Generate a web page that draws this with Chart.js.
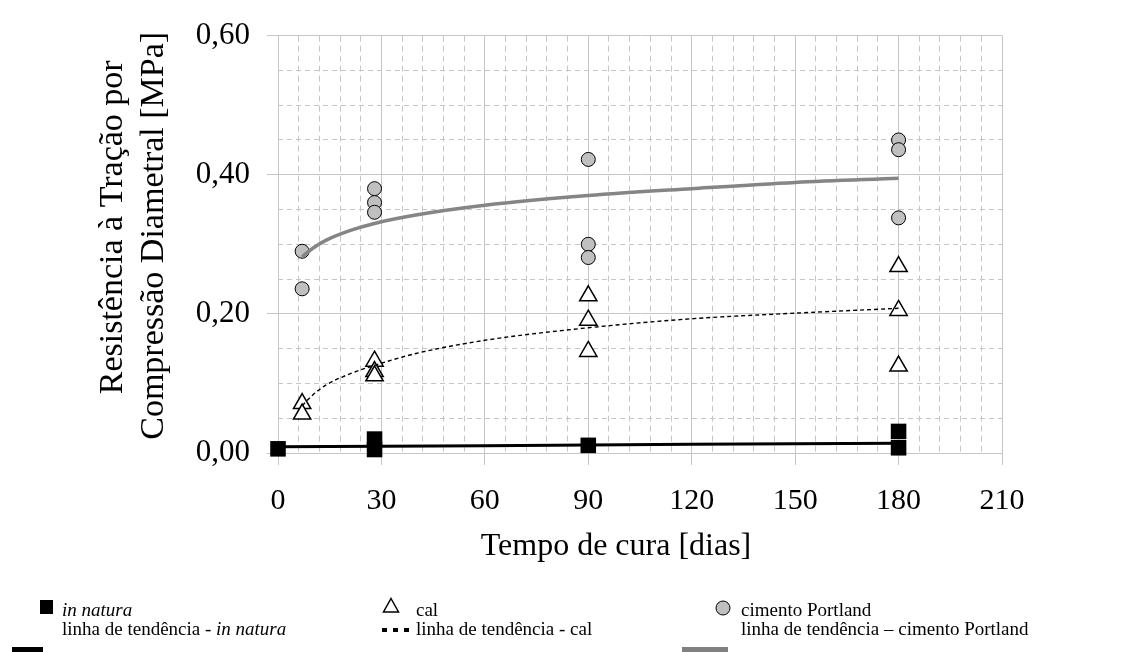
<!DOCTYPE html>
<html>
<head>
<meta charset="utf-8">
<script src="https://cdn.jsdelivr.net/npm/chart.js@4.4.1/dist/chart.umd.min.js"></script>
<style>
  body { margin: 0; background: #fff; }
  #wrap { position: relative; width: 1124px; height: 652px; overflow: hidden; }
  .lg { position: absolute; font-family: "Liberation Serif", serif; font-size: 19px; line-height: 20px; color: #000; white-space: nowrap; }
  .lg i { font-style: italic; }
  .sym { position: absolute; }
</style>
</head>
<body>
<div id="wrap">
  <canvas id="grafico" width="1124" height="652"></canvas>

  <!-- legenda feita à mão, igual à figura original -->
  <div class="sym" style="left:40px;top:600px;width:13px;height:14px;background:#000"></div>
  <div class="lg" style="left:62px;top:600px"><i>in natura</i></div>
  <div class="sym" style="left:12px;top:647px;width:31px;height:6px;background:#000"></div>
  <div class="lg" style="left:62px;top:619px">linha de tendência - <i>in natura</i></div>

  <svg class="sym" style="left:382px;top:597px" width="18" height="17"><polygon points="9,1.5 16.5,15 1.5,15" fill="#fff" stroke="#000" stroke-width="1.5"/></svg>
  <div class="lg" style="left:416px;top:600px">cal</div>
  <svg class="sym" style="left:381px;top:626px" width="32" height="8">
    <rect x="1" y="2" width="5" height="4" fill="#000"/><rect x="12" y="2" width="5" height="4" fill="#000"/><rect x="23" y="2" width="5" height="4" fill="#000"/>
  </svg>
  <div class="lg" style="left:416px;top:619px">linha de tendência - cal</div>

  <svg class="sym" style="left:714px;top:599px" width="18" height="18"><circle cx="9" cy="9" r="7" fill="#c0c0c0" stroke="#000" stroke-width="1"/></svg>
  <div class="lg" style="left:741px;top:600px">cimento Portland</div>
  <div class="sym" style="left:682px;top:647px;width:46px;height:6px;background:#808080"></div>
  <div class="lg" style="left:741px;top:619px">linha de tendência – cimento Portland</div>
</div>

<script>
// ---- dados ----
const xTickLabels = ['0', '30', '60', '90', '120', '150', '180', '210'];
const yTickLabels = ['0,00', '0,20', '0,40', '0,60'];
const xTitle = 'Tempo de cura [dias]';
const yTitle = ['Resistência à Tração por', 'Compressão Diametral [MPa]'];

// in natura (quadrados pretos)
const naturaDias = [0, 28, 28, 90, 180, 180];
const naturaRes = [0.006, 0.020, 0.005, 0.011, 0.031, 0.0075];
// cal (triângulos)
const calDias = [7, 7, 28, 28, 28, 90, 90, 90, 180, 180, 180];
const calRes = [0.071, 0.056, 0.132, 0.117, 0.111, 0.226, 0.191, 0.146, 0.268, 0.205, 0.125];
// cimento Portland (círculos cinza)
const cimDias = [7, 7, 28, 28, 28, 90, 90, 90, 180, 180, 180];
const cimRes = [0.290, 0.236, 0.380, 0.360, 0.346, 0.422, 0.300, 0.281, 0.450, 0.436, 0.338];

// linhas de tendência (pontos lidos sobre as curvas)
const tendNaturaDias = [0, 60, 120, 180];
const tendNaturaRes = [0.009, 0.0105, 0.0125, 0.014];
const tendCalDias = [7, 10, 14, 21, 28, 40, 60, 90, 120, 150, 180];
const tendCalRes = [0.068, 0.083, 0.098, 0.114, 0.126, 0.143, 0.162, 0.180, 0.193, 0.201, 0.208];
const tendCimDias = [7, 10, 14, 21, 28, 40, 60, 90, 120, 150, 180];
const tendCimRes = [0.282, 0.294, 0.306, 0.320, 0.330, 0.342, 0.356, 0.370, 0.380, 0.389, 0.395];

const pares = (xs, ys) => xs.map((x, i) => ({ x: x, y: ys[i] }));

const corGrade = '#c6c6c6';
const fonte = '"Liberation Serif", "Times New Roman", serif';

const ctx = document.getElementById('grafico').getContext('2d');
new Chart(ctx, {
  type: 'scatter',
  data: {
    datasets: [
      // linhas de tendência primeiro, para ficarem por cima dos marcadores
      {
        label: 'linha de tendência - in natura',
        data: pares(tendNaturaDias, tendNaturaRes),
        showLine: true, pointRadius: 0,
        borderColor: '#000', borderWidth: 3,
        xAxisID: 'x', yAxisID: 'y'
      },
      {
        label: 'linha de tendência - cal',
        data: pares(tendCalDias, tendCalRes),
        showLine: true, pointRadius: 0, cubicInterpolationMode: 'monotone',
        borderColor: '#000', borderWidth: 1.4, borderDash: [4, 3],
        xAxisID: 'x', yAxisID: 'y'
      },
      {
        label: 'linha de tendência – cimento Portland',
        data: pares(tendCimDias, tendCimRes),
        showLine: true, pointRadius: 0, cubicInterpolationMode: 'monotone',
        borderColor: '#858585', borderWidth: 3.5,
        xAxisID: 'x', yAxisID: 'y'
      },
      {
        label: 'in natura',
        data: pares(naturaDias, naturaRes),
        pointStyle: 'rect', pointRadius: 11,
        backgroundColor: '#000', borderColor: '#000', borderWidth: 0,
        clip: false,
        xAxisID: 'x', yAxisID: 'y'
      },
      {
        label: 'cal',
        data: pares(calDias, calRes),
        pointStyle: 'triangle', pointRadius: 10,
        backgroundColor: '#fff', borderColor: '#000', borderWidth: 1.5,
        clip: false,
        xAxisID: 'x', yAxisID: 'y'
      },
      {
        label: 'cimento Portland',
        data: pares(cimDias, cimRes),
        pointStyle: 'circle', pointRadius: 7,
        backgroundColor: '#c0c0c0', borderColor: '#000', borderWidth: 1,
        clip: false,
        xAxisID: 'x', yAxisID: 'y'
      }
    ]
  },
  options: {
    responsive: false,
    animation: false,
    events: [],
    layout: { padding: { top: 25, right: 122, left: 0, bottom: 0 } },
    plugins: { legend: { display: false }, tooltip: { enabled: false } },
    scales: {
      x: {
        type: 'linear', position: 'bottom', min: 0, max: 210,
        ticks: {
          stepSize: 30, color: '#000', padding: 18,
          font: { family: fonte, size: 30 },
          callback: (v, i) => xTickLabels[i]
        },
        grid: { color: corGrade, tickLength: 12, tickColor: corGrade },
        border: { color: corGrade },
        title: {
          // espaços no fim deslocam o título um pouco para a esquerda, como no original
          display: true, text: xTitle + '\u2002\u2002\u2002', color: '#000',
          font: { family: fonte, size: 32 }, padding: { top: 0, bottom: 86 }
        },
        afterFit: s => { s.height = 652 - 453; }
      },
      // grade secundária tracejada (6 em 6 dias)
      xMenor: {
        type: 'linear', position: 'bottom', min: 0, max: 210,
        ticks: { display: false, stepSize: 6 },
        grid: {
          drawTicks: false,
          color: c => (c.tick && c.tick.value % 30 === 0) ? 'rgba(0,0,0,0)' : corGrade
        },
        border: { display: false, dash: [6, 4] },
        afterFit: s => { s.height = 0; }
      },
      y: {
        type: 'linear', position: 'left', min: 0, max: 0.6,
        ticks: {
          stepSize: 0.2, color: '#000', padding: 17,
          font: { family: fonte, size: 31 },
          callback: (v, i) => yTickLabels[i]
        },
        grid: { color: corGrade, tickLength: 11, tickColor: corGrade },
        border: { color: corGrade },
        title: {
          // espaços no início sobem um pouco cada linha do título
          display: true, text: ['\u2002\u2002' + yTitle[0], '\u2002' + yTitle[1]], color: '#000',
          font: { family: fonte, size: 34 }, padding: { top: 93, bottom: 0 }
        },
        afterFit: s => { s.width = 278; }
      },
      // grade secundária tracejada (0,05 MPa)
      yMenor: {
        type: 'linear', position: 'left', min: 0, max: 0.6,
        ticks: { display: false, stepSize: 0.05 },
        grid: {
          drawTicks: false,
          color: c => {
            if (!c.tick) return corGrade;
            const k = c.tick.value / 0.2;
            return Math.abs(k - Math.round(k)) < 1e-6 ? 'rgba(0,0,0,0)' : corGrade;
          }
        },
        border: { display: false, dash: [5, 4] },
        afterFit: s => { s.width = 0; }
      }
    }
  }
});
</script>
</body>
</html>
